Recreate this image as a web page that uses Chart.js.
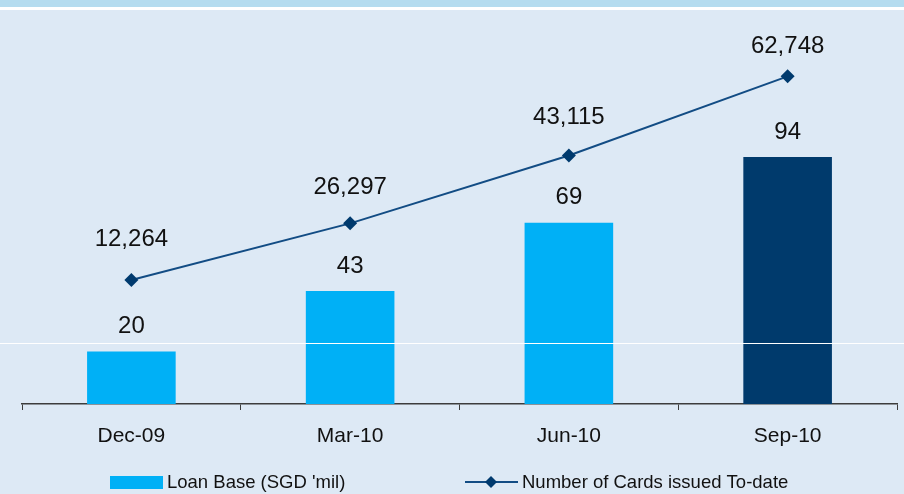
<!DOCTYPE html>
<html>
<head>
<meta charset="utf-8">
<script src="https://cdn.jsdelivr.net/npm/chart.js@4/dist/chart.umd.min.js"></script>
<style>
    html, body { margin: 0; padding: 0; background: #dde9f5; }
    #wrap { width: 904px; height: 494px; position: relative; }
</style>
</head>
<body>
<div id="wrap"><canvas id="cardsChart" width="904" height="494"></canvas></div>
<script>
// Chart data
const quarters = ['Dec-09', 'Mar-10', 'Jun-10', 'Sep-10'];
const loanBase = [20, 43, 69, 94];
const cardsIssued = [12264, 26297, 43115, 62748];

const BAR_LIGHT = '#00b0f6';
const BAR_DARK = '#003a6c';
const LINE_COLOR = '#124c84';
const MARKER_COLOR = '#003a6e';
const TEXT_COLOR = '#111111';
const FONT = "'Liberation Sans', Arial, sans-serif";

// Label lift above each line point (labels were hand placed in the original)
const cardLabelLift = [41, 36, 38, 30];

const backdrop = {
    id: 'backdrop',
    beforeDraw(chart) {
        const { ctx, width, height } = chart;
        ctx.save();
        ctx.fillStyle = '#dde9f5';
        ctx.fillRect(0, 0, width, height);
        ctx.fillStyle = '#b5dcef';
        ctx.fillRect(0, 0, width, 7);
        ctx.fillStyle = '#ffffff';
        ctx.fillRect(0, 7, width, 3);
        ctx.restore();
    },
    afterDraw(chart) {
        const { ctx, width } = chart;
        ctx.save();
        ctx.fillStyle = '#ffffff';
        ctx.fillRect(0, 343, width, 1);
        ctx.restore();
    }
};

const valueLabels = {
    id: 'valueLabels',
    afterDatasetsDraw(chart) {
        const { ctx } = chart;
        ctx.save();
        ctx.font = `24px ${FONT}`;
        ctx.fillStyle = TEXT_COLOR;
        ctx.textAlign = 'center';
        ctx.textBaseline = 'middle';

        const bars = chart.getDatasetMeta(0).data;
        bars.forEach((bar, i) => {
            ctx.fillText(loanBase[i].toString(), bar.x, bar.y - 25);
        });

        const points = chart.getDatasetMeta(1).data;
        points.forEach((pt, i) => {
            ctx.fillText(cardsIssued[i].toLocaleString('en-US'), pt.x, pt.y - cardLabelLift[i]);
        });
        ctx.restore();
    }
};

const customLegend = {
    id: 'customLegend',
    afterDraw(chart) {
        const { ctx } = chart;
        ctx.save();
        ctx.font = `18.5px ${FONT}`;
        ctx.fillStyle = TEXT_COLOR;
        ctx.textBaseline = 'middle';

        // bar series
        ctx.fillStyle = BAR_LIGHT;
        ctx.fillRect(110, 476, 53, 13);
        ctx.fillStyle = TEXT_COLOR;
        ctx.fillText(chart.data.datasets[0].label, 167, 483);

        // line series
        ctx.strokeStyle = LINE_COLOR;
        ctx.lineWidth = 2;
        ctx.beginPath();
        ctx.moveTo(465, 482);
        ctx.lineTo(518, 482);
        ctx.stroke();
        ctx.fillStyle = MARKER_COLOR;
        ctx.beginPath();
        ctx.moveTo(491, 476);
        ctx.lineTo(497, 482);
        ctx.lineTo(491, 488);
        ctx.lineTo(485, 482);
        ctx.closePath();
        ctx.fill();
        ctx.fillStyle = TEXT_COLOR;
        ctx.fillText(chart.data.datasets[1].label, 522, 483);
        ctx.restore();
    }
};

const ctx = document.getElementById('cardsChart').getContext('2d');
new Chart(ctx, {
    data: {
        labels: quarters,
        datasets: [
            {
                type: 'bar',
                label: "Loan Base (SGD 'mil)",
                data: loanBase,
                yAxisID: 'y',
                backgroundColor: loanBase.map((v, i) => i === loanBase.length - 1 ? BAR_DARK : BAR_LIGHT),
                borderWidth: 0,
                categoryPercentage: 1,
                barPercentage: 0.405,
                order: 2
            },
            {
                type: 'line',
                label: 'Number of Cards issued To-date',
                data: cardsIssued,
                yAxisID: 'y1',
                borderColor: LINE_COLOR,
                borderWidth: 2,
                pointStyle: 'rectRot',
                pointRadius: 7,
                pointBackgroundColor: MARKER_COLOR,
                pointBorderColor: MARKER_COLOR,
                pointBorderWidth: 0,
                tension: 0,
                fill: false,
                order: 1
            }
        ]
    },
    options: {
        responsive: false,
        animation: false,
        devicePixelRatio: 1,
        layout: { padding: { left: 22, right: 7, top: 10, bottom: 0 } },
        plugins: {
            legend: { display: false },
            tooltip: { enabled: false }
        },
        scales: {
            x: {
                offset: true,
                afterFit(scale) { scale.height = 90; },
                grid: {
                    offset: true,
                    drawOnChartArea: false,
                    drawTicks: true,
                    tickLength: 6,
                    color: '#3c3c3c',
                    lineWidth: 1
                },
                border: { display: true, color: '#3c3c3c', width: 1.5 },
                ticks: {
                    color: TEXT_COLOR,
                    font: { family: FONT, size: 21 },
                    padding: 14
                }
            },
            y: {
                display: false,
                min: 0,
                max: 150
            },
            y1: {
                display: false,
                min: -18500,
                max: 79200
            }
        }
    },
    plugins: [backdrop, valueLabels, customLegend]
});
</script>
</body>
</html>
